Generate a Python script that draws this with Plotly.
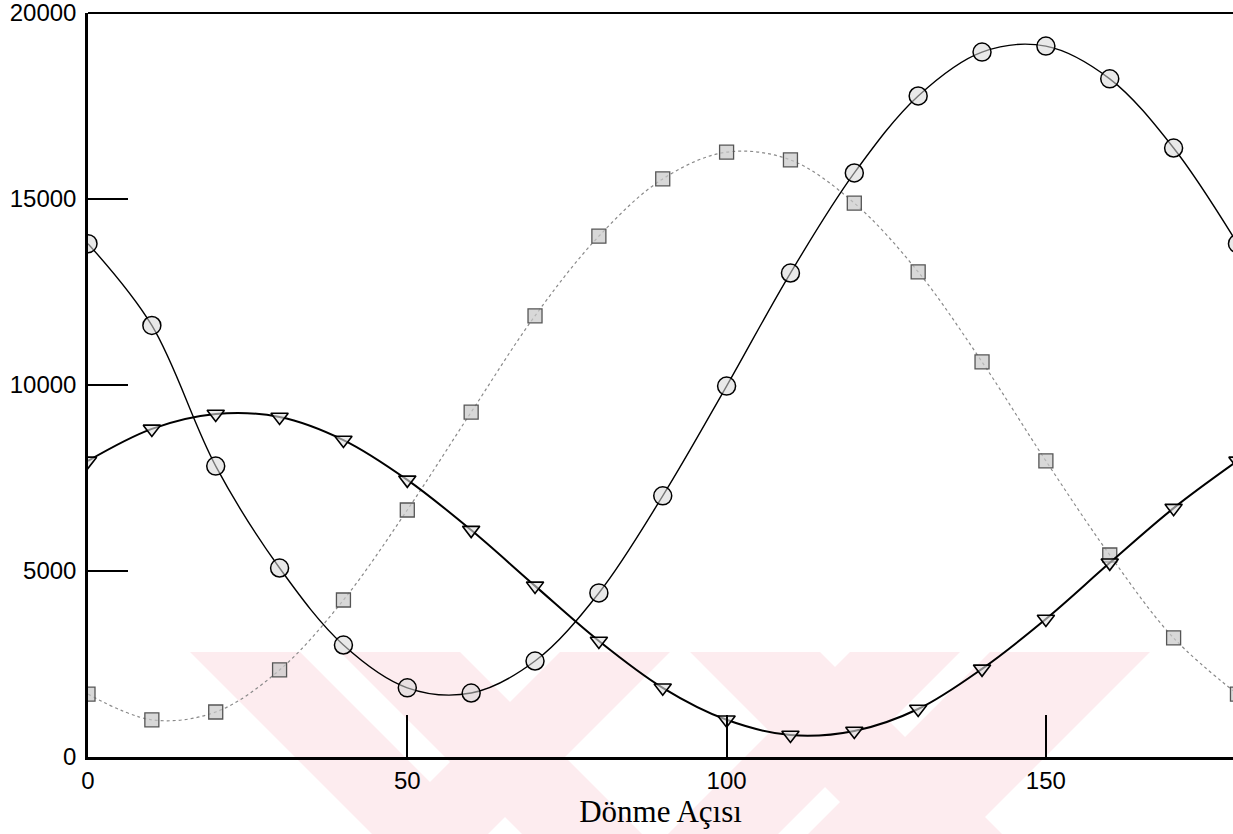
import plotly.graph_objects as go

angles = [0, 10, 20, 30, 40, 50, 60, 70, 80, 90, 100, 110, 120, 130, 140, 150, 160, 170, 180]
circle_vals = [13800, 11600, 7820, 5080, 3010, 1860, 1720, 2580, 4410, 7020, 9970,
               13010, 15700, 17770, 18950, 19110, 18230, 16370, 13800]
triangle_vals = [7960, 8820, 9220, 9140, 8520, 7450, 6100, 4600, 3120, 1860, 1000,
                 590, 700, 1290, 2370, 3710, 5220, 6690, 7960]
square_vals = [1690, 1000, 1210, 2340, 4220, 6640, 9270, 11860, 14000, 15540, 16260,
               16050, 14890, 13040, 10620, 7960, 5430, 3200, 1690]
x_ticks = [0, 50, 100, 150]
y_ticks = [0, 5000, 10000, 15000, 20000]

W, H = 1233, 834
L, R, T, B = 88, 0, 13, 77
plot_w = W - L - R
plot_h = H - T - B


def px_to_paper(px, py):
    return (px - L) / plot_w, (H - B - py) / plot_h


def band(x0, w, direction):
    top, bot = 652, 840
    d = bot - top
    if direction == "\\":
        pts = [(x0, top), (x0 + w, top), (x0 + w + d, bot), (x0 + d, bot)]
    else:
        pts = [(x0, top), (x0 + w, top), (x0 + w - d, bot), (x0 - d, bot)]
    pp = [px_to_paper(*p) for p in pts]
    path = "M " + " L ".join(f"{a:.4f},{b:.4f}" for a, b in pp) + " Z"
    return dict(type="path", xref="paper", yref="paper", path=path,
                fillcolor="#fdecef", line=dict(width=0), layer="below")


fig = go.Figure()

fig.add_trace(go.Scatter(
    x=angles, y=square_vals, mode="lines+markers",
    line=dict(color="#8a8a8a", width=1.2, dash="dot", shape="spline"),
    marker=dict(symbol="square", size=14, color="rgba(200,200,200,0.7)",
                line=dict(color="#555555", width=1.3)),
    showlegend=False))

fig.add_trace(go.Scatter(
    x=angles, y=circle_vals, mode="lines+markers",
    line=dict(color="black", width=1.4, shape="spline"),
    marker=dict(symbol="circle", size=18, color="rgba(215,215,215,0.55)",
                line=dict(color="black", width=1.5)),
    showlegend=False))

fig.add_trace(go.Scatter(
    x=angles, y=triangle_vals, mode="lines+markers",
    line=dict(color="black", width=2, shape="spline"),
    marker=dict(symbol="triangle-down", size=15, color="rgba(225,225,225,0.6)",
                line=dict(color="black", width=1.6)),
    showlegend=False))

shapes = [
    band(190, 110, "\\"),
    band(340, 120, "\\"),
    band(560, 110, "/"),
    band(690, 130, "\\"),
    band(850, 110, "/"),
    band(990, 160, "/"),
    dict(type="line", xref="paper", yref="paper", x0=0, x1=1, y0=1, y1=1,
         line=dict(color="black", width=2)),
]

fig.update_layout(
    width=W, height=H,
    margin=dict(l=L, r=R, t=T, b=B, autoexpand=False),
    paper_bgcolor="white", plot_bgcolor="rgba(0,0,0,0)",
    shapes=shapes,
    font=dict(family="Arial, Liberation Sans", size=24, color="black"),
)

fig.update_xaxes(
    range=[0, 179.3], tickvals=x_ticks, ticktext=[str(v) for v in x_ticks],
    ticks="inside", ticklen=42, tickwidth=2, tickcolor="black",
    showline=True, linecolor="black", linewidth=2.5,
    showgrid=False, zeroline=False, automargin=False,
    tickfont=dict(family="Arial, Liberation Sans", size=24),
    title=dict(text="Dönme Açısı", font=dict(family="Liberation Serif, Times New Roman", size=31),
               standoff=4),
)
fig.update_yaxes(
    range=[0, 20000], tickvals=y_ticks, ticktext=[str(v) for v in y_ticks],
    ticks="inside", ticklen=40, tickwidth=2, tickcolor="black",
    showline=True, linecolor="black", linewidth=2.5,
    showgrid=False, zeroline=False, ticklabelstandoff=4, automargin=False,
    ticklabeloverflow="allow",
    tickfont=dict(family="Arial, Liberation Sans", size=24),
)

fig.write_html("out.html", config={"displayModeBar": False},
               post_script="document.body.style.margin='0';")
